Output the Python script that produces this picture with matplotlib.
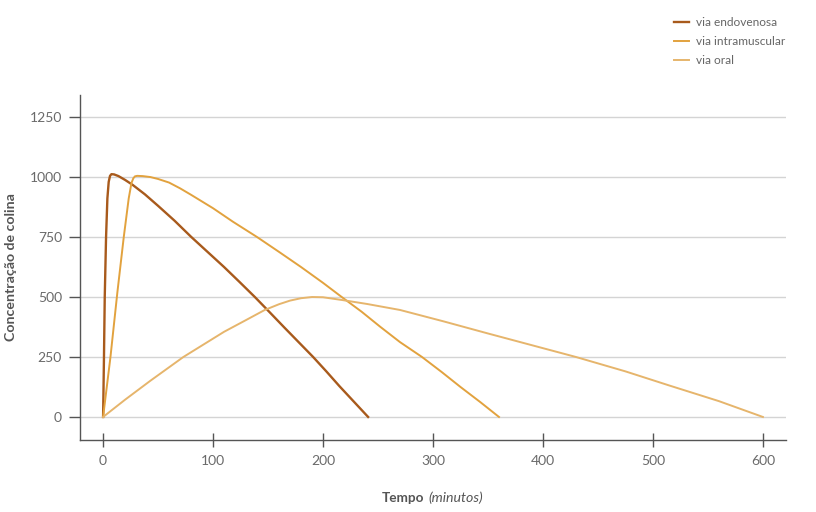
import matplotlib
matplotlib.use("Agg")
import matplotlib.pyplot as plt

plt.rcParams['font.family'] = ['Lato', 'DejaVu Sans']

# leituras da figura (tempo em minutos, concentração)
iv_t = [0, 0.8, 1.5, 2.7, 3.9, 5.1, 6.3, 7.6, 10, 14, 20, 27, 38, 50, 65, 80, 95, 110, 124, 138,
        152, 165, 178, 191, 203, 215, 228, 241]
iv_c = [0, 250, 500, 750, 911, 980, 1005, 1012, 1011, 1004, 988, 967, 928, 880, 818, 751, 688, 625,
        563, 500, 434, 372, 311, 250, 190, 128, 64, 0]

im_t = [0, 6.7, 13, 18.8, 23.3, 25.8, 27.5, 29, 31, 36, 43, 50, 60, 70, 80, 100, 118, 140, 160,
        180, 200, 217, 235, 252, 270, 290, 308, 325, 343, 360]
im_c = [0, 250, 520, 750, 911, 975, 995, 1003, 1005, 1004, 1000, 992, 977, 953, 926, 870, 814, 750,
        688, 625, 559, 500, 439, 376, 312, 250, 187, 125, 62, 0]

oral_t = [0, 20, 43, 73, 110, 130, 147, 160, 170, 180, 190, 200, 218, 240, 270, 310, 350, 390,
          430, 475, 515, 560, 600]
oral_c = [0, 72, 151, 250, 355, 404, 446, 470, 485, 495, 500, 499, 487, 471, 446, 398, 348, 299,
          250, 190, 131, 66, 0]

series_labels = ['via endovenosa', 'via intramuscular', 'via oral']
x_ticks = [0, 100, 200, 300, 400, 500, 600]
y_ticks = [0, 250, 500, 750, 1000, 1250]

fig = plt.figure(figsize=(8.16, 5.12), dpi=100)
ax = fig.add_axes([80 / 816, 1 - 440 / 512, 706 / 816, 345 / 512])

ax.plot(iv_t, iv_c, color='#a85a1c', lw=1.7, label=series_labels[0], zorder=3)
ax.plot(im_t, im_c, color='#e2a23e', lw=1.4, label=series_labels[1], zorder=3)
ax.plot(oral_t, oral_c, color='#e6b56c', lw=1.4, label=series_labels[2], zorder=3)

ax.set_xlim(-21, 621)
ax.set_ylim(-96, 1342)
ax.set_xticks(x_ticks)
ax.set_yticks(y_ticks)
ax.grid(axis='y', color='#d4d4d4', lw=1)
ax.set_axisbelow(True)

for s in ['top', 'right']:
    ax.spines[s].set_visible(False)
for s in ['left', 'bottom']:
    ax.spines[s].set_color('#555555')
    ax.spines[s].set_linewidth(1)

ax.tick_params(axis='y', direction='out', length=8, width=1, color='#555555',
               labelsize=10, labelcolor='#6a6a6a', pad=5)
ax.tick_params(axis='x', direction='inout', length=10, width=1, color='#555555',
               labelsize=10, labelcolor='#6a6a6a', pad=6)

ax.set_ylabel('Concentração de colina', fontsize=10.2, fontweight='bold',
              color='#555555', labelpad=9)
ax.text(0.487, -0.168, 'Tempo', transform=ax.transAxes, ha='right', va='center',
        fontsize=9.8, fontweight='bold', color='#555555')
ax.text(0.494, -0.168, '(minutos)', transform=ax.transAxes, ha='left', va='center',
        fontsize=10.2, style='italic', color='#555555')

leg = fig.legend(loc='upper left', bbox_to_anchor=(663 / 816, 1 - 6 / 512),
                 frameon=False, fontsize=8.6, handlelength=1.3, handletextpad=0.6,
                 labelspacing=0.7)
for t in leg.get_texts():
    t.set_color('#666666')

fig.savefig('out.png', dpi=100)
